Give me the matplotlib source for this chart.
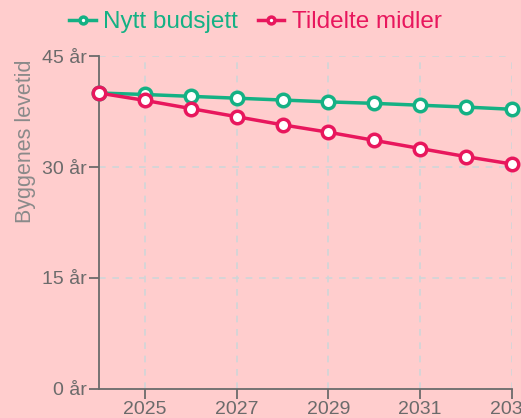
import numpy as np
from matplotlib import pyplot as plt

years = [2024, 2025, 2026, 2027, 2028, 2029, 2030, 2031, 2032, 2033]
nytt_budsjett = [40.0, 39.8, 39.55, 39.3, 39.05, 38.8, 38.6, 38.35, 38.1, 37.8]
tildelte_midler = [40.0, 39.0, 37.9, 36.8, 35.7, 34.7, 33.6, 32.5, 31.4, 30.4]
y_ticks = [0, 15, 30, 45]
x_ticks = [2025, 2027, 2029, 2031, 2033]

bg = "#ffcdcd"
green = "#14b184"
red = "#e8175d"
gray = "#6b6b6b"

plt.rcParams['font.family'] = ['Liberation Sans', 'DejaVu Sans']

fig = plt.figure(figsize=(5.21, 4.18), dpi=100, facecolor=bg)
ax = fig.add_axes([0.19, 0.0694, 0.7927, 0.7966])
ax.set_facecolor(bg)

ax.plot(years, nytt_budsjett, color=green, lw=2.5, marker="o", ms=9,
        mfc="white", mec=green, mew=2.5, label="Nytt budsjett", clip_on=False, zorder=3)
ax.plot(years, tildelte_midler, color=red, lw=2.5, marker="o", ms=9,
        mfc="white", mec=red, mew=2.5, label="Tildelte midler", clip_on=False, zorder=4)

ax.set_xlim(2024, 2033)
ax.set_ylim(0, 45)
ax.set_xticks(x_ticks)
ax.set_yticks(y_ticks)
ax.set_yticklabels([f"{v} år" for v in y_ticks])

ax.grid(True, ls=(0, (4, 4)), color="#d0d6d8", lw=1.2)
ax.set_axisbelow(True)
for s in ["top", "right"]:
    ax.spines[s].set_visible(False)
for s in ["left", "bottom"]:
    ax.spines[s].set_color(gray)
    ax.spines[s].set_linewidth(1.3)
ax.tick_params(colors=gray, labelsize=14, length=7, width=1.3, pad=2)

# y label sits above the middle of the axis, like the original
ax.text(-0.177, 0.5, "Byggenes levetid", transform=ax.transAxes, rotation=90,
        ha="center", va="bottom", color="#8a8a8a", fontsize=15.5)

fig.legend(loc="upper center", bbox_to_anchor=(0.49, 1.025), ncol=2, frameon=False,
           fontsize=17.5, handlelength=1.1, handletextpad=0.3, columnspacing=0.8,
           labelcolor="linecolor", markerscale=0.55)

plt.savefig("out.png", dpi=100, facecolor=bg)
plt.close()
